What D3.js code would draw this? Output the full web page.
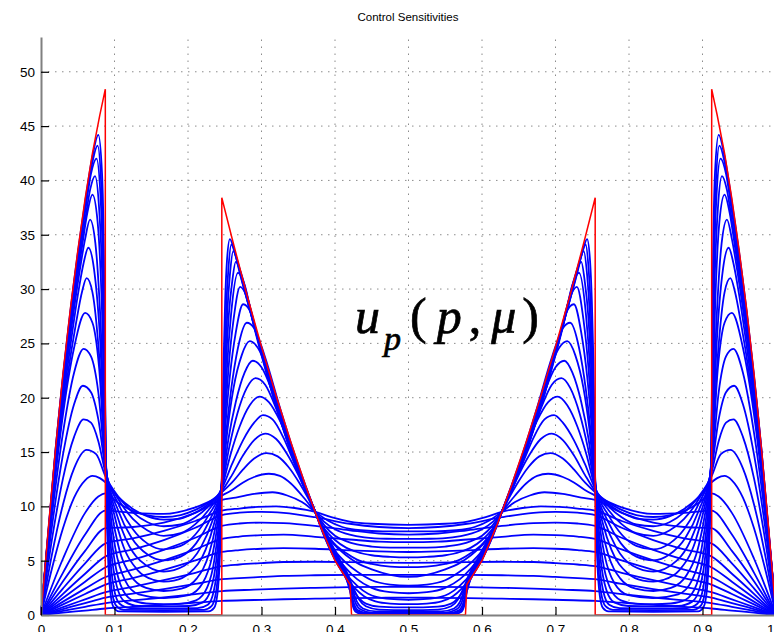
<!DOCTYPE html>
<html>
<head>
<meta charset="utf-8">
<script src="https://cdn.jsdelivr.net/npm/d3@7"></script>
<style>
  body { margin: 0; background: #fff; }
  svg text { font-family: "Liberation Sans", Arial, sans-serif; }
</style>
</head>
<body>
<div class="visHolder"></div>
<script>
const width = 774, height = 632;

// tick values
const xTicks = [0, 0.1, 0.2, 0.3, 0.4, 0.5, 0.6, 0.7, 0.8, 0.9, 1];
const yTicks = [0, 5, 10, 15, 20, 25, 30, 35, 40, 45, 50];

// limit curve (mu -> 0), left half; right half is its mirror image about p = 0.5
const redHalf = [[0,0],[0.01,8],[0.02,15.5],[0.03,22.3],[0.04,28.2],[0.05,33.5],[0.06,38.3],[0.07,42.5],[0.08,46],[0.0875,48.4],
  [0.0875,0],[0.246,0],[0.246,38.4],[0.26,34.65],[0.28,29.5],[0.30,24.7],[0.32,20.15],[0.34,15.9],[0.36,11.9],[0.38,8.2],
  [0.40,5.0],[0.4205,2.8],[0.4225,0],[0.5,0]];

// sensitivities u_p(p, mu) for increasing mu, left half (p <= 0.5)
const sensHalf = [
  [[0,0],[0.02,15.4],[0.04,28.0],[0.06,38.0],[0.07,42.2],[0.078,44.2],[0.083,40.7],[0.0855,33.5],[0.088,15.0],
   [0.0895,9.2],[0.091,5.7],[0.094,2.3],[0.0985,0.74],[0.106,0.34],[0.167,0.3],[0.228,0.34],[0.2355,0.66],[0.240,1.93],[0.243,4.75],[0.2445,7.6],
   [0.246,12.4],[0.247,17.5],[0.2485,23.6],[0.2505,28.8],[0.253,32.6],[0.257,34.6],[0.262,33.8],[0.27,31.6],[0.285,27.9],[0.30,24.35],[0.32,19.85],[0.34,15.65],[0.36,11.7],[0.373,9.5],[0.39,6.8],[0.405,4.7],[0.415,3.4],[0.4205,2.2],[0.424,0.9],[0.428,0.3],[0.435,0.12],[0.5,0.1]],
  [[0,0],[0.02,15.3],[0.04,27.8],[0.06,37.7],[0.07,41.7],[0.077,43.2],[0.082,39.5],[0.085,32.0],[0.088,14.9],
   [0.090,9.2],[0.092,5.77],[0.096,2.4],[0.102,0.88],[0.112,0.48],[0.167,0.45],[0.222,0.48],[0.232,0.81],[0.238,2.06],[0.242,4.85],[0.244,7.7],
   [0.246,12.4],[0.2475,17.7],[0.2495,23.2],[0.252,28.3],[0.255,31.9],[0.259,34.1],[0.265,33.0],[0.275,30.4],[0.29,26.6],[0.31,21.9],[0.33,17.5],[0.35,13.4],[0.373,9.5],[0.39,6.9],[0.405,4.8],[0.415,3.5],[0.421,2.1],[0.425,0.9],[0.43,0.35],[0.44,0.14],[0.5,0.12]],
  [[0,0],[0.02,15.1],[0.04,27.4],[0.06,37.1],[0.068,40.6],[0.0755,42.0],[0.081,38.5],[0.0845,31.5],[0.088,14.8],
   [0.09075,9.22],[0.0935,5.83],[0.099,2.52],[0.107,1.03],[0.121,0.64],[0.167,0.6],[0.213,0.63],[0.227,0.95],[0.235,2.18],[0.2405,4.9],[0.24325,7.7],
   [0.246,12.3],[0.248,17.7],[0.2505,23.0],[0.2535,27.9],[0.257,31.3],[0.2616,33.5],[0.268,32.4],[0.278,29.7],[0.29,26.6],[0.31,21.8],[0.33,17.4],[0.35,13.3],[0.373,9.5],[0.39,7.0],[0.405,4.9],[0.415,3.6],[0.421,2.3],[0.426,1.0],[0.432,0.4],[0.445,0.17],[0.5,0.15]],
  [[0,0],[0.02,14.9],[0.04,27.0],[0.06,36.3],[0.067,39.2],[0.0735,40.4],[0.079,37.5],[0.084,29.5],[0.088,14.7],
   [0.09175,9.24],[0.0955,5.92],[0.103,2.68],[0.114,1.23],[0.133,0.83],[0.167,0.8],[0.201,0.83],[0.220,1.16],[0.231,2.35],[0.2385,5.03],[0.24225,7.78],
   [0.246,12.3],[0.2485,17.7],[0.2515,22.8],[0.2555,27.6],[0.26,30.6],[0.265,32.5],[0.272,31.5],[0.283,28.7],[0.30,24.2],[0.32,19.6],[0.34,15.4],[0.36,11.6],[0.373,9.5],[0.39,7.0],[0.405,5.0],[0.415,3.7],[0.422,2.4],[0.428,1.1],[0.435,0.5],[0.45,0.22],[0.5,0.2]],
  [[0,0],[0.02,14.7],[0.04,26.4],[0.055,33.5],[0.063,37.0],[0.070,38.7],[0.077,36.2],[0.083,28.0],[0.088,14.5],
   [0.093,9.2],[0.098,5.97],[0.108,2.82],[0.123,1.41],[0.143,1.06],[0.167,1.0],[0.191,1.05],[0.211,1.34],[0.226,2.51],[0.236,5.12],[0.241,7.8],
   [0.246,12.2],[0.2495,17.9],[0.253,22.7],[0.2585,27.6],[0.268,31.5],[0.276,30.6],[0.29,26.5],[0.31,21.5],[0.33,17.1],[0.35,13.1],[0.373,9.5],[0.39,7.1],[0.405,5.1],[0.416,3.7],[0.423,2.5],[0.43,1.2],[0.438,0.6],[0.455,0.33],[0.5,0.3]],
  [[0,0],[0.02,14.4],[0.04,25.7],[0.052,31.4],[0.06,34.6],[0.0667,36.4],[0.074,34.2],[0.081,27.0],[0.088,14.3],
   [0.0945,9.27],[0.101,6.2],[0.114,3.23],[0.133,1.9],[0.167,1.56],[0.201,1.83],[0.220,2.94],[0.233,5.44],[0.2395,8.0],
   [0.246,12.2],[0.25,17.6],[0.255,22.6],[0.262,27.2],[0.271,30.2],[0.28,29.3],[0.295,25.4],[0.315,20.3],[0.335,16.0],[0.355,12.3],[0.373,9.5],[0.39,7.2],[0.405,5.3],[0.417,3.8],[0.425,2.5],[0.433,1.4],[0.442,0.8],[0.46,0.5],[0.5,0.45]],
  [[0,0],[0.02,14.0],[0.04,24.8],[0.05,29.4],[0.058,32.4],[0.0644,33.8],[0.072,31.9],[0.08,25.8],[0.088,14.1],
   [0.0965,9.34],[0.105,6.45],[0.122,3.64],[0.143,2.49],[0.167,2.21],[0.191,2.42],[0.212,3.37],[0.229,5.72],[0.2375,8.13],
   [0.246,12.1],[0.251,17.5],[0.257,22.0],[0.265,26.0],[0.275,28.6],[0.285,27.9],[0.30,24.2],[0.32,19.6],[0.34,15.5],[0.36,11.8],[0.373,9.5],[0.385,7.3],[0.40,5.1],[0.413,3.6],[0.423,2.5],[0.432,1.6],[0.442,1.05],[0.46,0.78],[0.5,0.7]],
  [[0,0],[0.02,13.5],[0.035,21.5],[0.048,27.0],[0.056,29.8],[0.0621,31.0],[0.07,29.7],[0.079,24.0],[0.088,13.9],
   [0.099,9.43],[0.110,6.72],[0.132,4.09],[0.153,3.24],[0.167,3.08],[0.181,3.17],[0.202,3.85],[0.224,6.02],[0.235,8.28],
   [0.246,12.0],[0.252,16.8],[0.259,20.9],[0.268,24.6],[0.28,26.9],[0.29,26.4],[0.305,23.7],[0.325,19.1],[0.345,14.8],[0.36,11.9],[0.373,9.5],[0.385,7.35],[0.40,5.1],[0.415,3.5],[0.428,2.4],[0.44,1.7],[0.455,1.25],[0.475,1.05],[0.5,1.0]],
  [[0,0],[0.015,10.0],[0.03,18.5],[0.045,24.6],[0.06,27.8],[0.07,26.9],[0.079,22.8],[0.088,13.7],
   [0.102,9.47],[0.116,6.9],[0.135,5.0],[0.167,4.0],[0.195,4.53],[0.218,6.29],[0.232,8.44],
   [0.246,12.0],[0.254,17.2],[0.262,20.9],[0.273,23.9],[0.284,25.2],[0.295,24.6],[0.31,22.2],[0.33,17.8],[0.35,13.5],[0.373,9.5],[0.385,7.4],[0.40,5.3],[0.415,3.8],[0.43,2.7],[0.445,1.95],[0.47,1.5],[0.5,1.4]],
  [[0,0],[0.015,9.2],[0.03,16.8],[0.045,22.3],[0.058,24.5],[0.068,23.8],[0.078,20.5],[0.088,13.5],
   [0.105,9.62],[0.123,7.13],[0.145,5.56],[0.167,5.03],[0.19,5.37],[0.211,6.59],[0.229,8.66],
   [0.246,11.9],[0.255,16.2],[0.265,19.6],[0.277,22.3],[0.288,23.4],[0.30,22.8],[0.315,20.5],[0.335,16.3],[0.355,12.6],[0.373,9.5],[0.385,7.5],[0.40,5.6],[0.415,4.3],[0.43,3.3],[0.45,2.5],[0.475,2.1],[0.5,2.0]],
  [[0,0],[0.015,8.2],[0.03,14.8],[0.045,19.4],[0.057,21.1],[0.068,20.5],[0.078,18.0],[0.088,13.3],
   [0.105,10.27],[0.125,7.89],[0.145,6.57],[0.167,6.04],[0.19,6.36],[0.21,7.41],[0.228,9.19],
   [0.246,11.8],[0.256,15.4],[0.267,18.5],[0.28,20.9],[0.292,21.8],[0.305,21.2],[0.32,19.0],[0.34,15.1],[0.357,12.2],[0.373,9.5],[0.385,7.6],[0.40,5.9],[0.415,4.8],[0.43,4.0],[0.45,3.2],[0.475,2.8],[0.5,2.7]],
  [[0,0],[0.015,7.0],[0.03,12.6],[0.045,16.4],[0.058,18.0],[0.068,17.7],[0.078,16.0],[0.088,13.0],
   [0.105,10.67],[0.125,8.85],[0.145,7.78],[0.167,7.29],[0.19,7.54],[0.21,8.36],[0.228,9.67],
   [0.246,11.7],[0.258,14.8],[0.27,17.3],[0.284,19.3],[0.297,20.1],[0.31,19.6],[0.325,17.9],[0.34,15.5],[0.357,12.3],[0.373,9.5],[0.385,7.7],[0.40,6.4],[0.415,5.5],[0.43,4.8],[0.45,4.2],[0.475,3.7],[0.5,3.5]],
  [[0,0],[0.015,5.6],[0.03,10.2],[0.045,13.5],[0.062,15.2],[0.075,14.8],[0.088,12.7],
   [0.105,10.9],[0.125,9.44],[0.145,8.54],[0.167,8.17],[0.19,8.33],[0.21,8.99],[0.228,10.02],
   [0.246,11.6],[0.26,13.9],[0.275,16.1],[0.29,17.7],[0.302,18.4],[0.315,18.0],[0.33,16.3],[0.345,13.9],[0.36,11.5],[0.373,9.5],[0.385,7.8],[0.40,6.5],[0.415,5.7],[0.43,5.1],[0.45,4.7],[0.475,4.45],[0.5,4.4]],
  [[0,0],[0.015,4.3],[0.03,8.0],[0.045,10.8],[0.06,12.4],[0.07,12.8],[0.08,12.6],[0.088,12.2],
   [0.105,10.86],[0.125,9.76],[0.145,9.07],[0.167,8.78],[0.19,8.88],[0.21,9.43],[0.228,10.21],
   [0.246,11.4],[0.26,12.9],[0.275,14.7],[0.29,16.1],[0.305,16.7],[0.32,16.2],[0.335,14.8],[0.35,12.9],[0.362,11.1],[0.373,9.5],[0.385,8.0],[0.40,6.9],[0.415,6.2],[0.43,5.8],[0.45,5.5],[0.475,5.35],[0.5,5.3]],
  [[0,0],[0.03,5.2],[0.06,9.4],[0.078,10.9],[0.088,11.2],
   [0.105,10.32],[0.125,9.59],[0.145,9.17],[0.167,9.02],[0.19,9.2],[0.21,9.67],[0.228,10.35],
   [0.246,11.3],[0.26,12.2],[0.275,13.4],[0.29,14.4],[0.307,14.9],[0.322,14.6],[0.337,13.6],[0.352,12.1],[0.363,10.8],[0.373,9.5],[0.385,8.3],[0.40,7.3],[0.415,6.8],[0.43,6.5],[0.45,6.3],[0.475,6.2],[0.5,6.2]],
  [[0,0],[0.03,3.9],[0.06,7.4],[0.088,9.6],
   [0.125,9.4],[0.167,9.3],[0.21,9.9],
   [0.246,11.0],[0.26,11.5],[0.275,12.2],[0.29,12.7],[0.31,13.0],[0.325,12.8],[0.34,12.1],[0.355,11.0],[0.373,9.5],[0.385,8.6],[0.40,7.9],[0.42,7.4],[0.44,7.15],[0.47,7.02],[0.5,7.0]],
  [[0,0],[0.03,3.1],[0.06,5.9],[0.088,8.0],
   [0.125,8.1],[0.167,8.5],[0.21,9.4],
   [0.246,10.6],[0.265,10.8],[0.29,11.15],[0.315,11.3],[0.335,11.0],[0.355,10.4],[0.373,9.5],[0.39,8.7],[0.41,8.1],[0.435,7.8],[0.465,7.7],[0.5,7.7]],
  [[0,0],[0.03,2.45],[0.06,4.75],[0.088,6.6],
   [0.125,7.05],[0.167,7.75],[0.21,8.65],
   [0.246,9.6],[0.27,9.8],[0.295,9.95],[0.32,10.0],[0.345,9.85],[0.373,9.5],[0.395,9.0],[0.42,8.6],[0.45,8.4],[0.5,8.3]],
  [[0,0],[0.03,1.95],[0.06,3.8],[0.088,5.4],
   [0.125,6.04],[0.167,6.9],[0.21,8.03],
   [0.246,9.2],[0.27,9.42],[0.30,9.5],[0.33,9.4],[0.373,9.0],[0.42,8.4],[0.46,8.1],[0.5,8.0]],
  [[0,0],[0.03,1.57],[0.06,3.07],[0.088,4.4],
   [0.125,5.09],[0.167,6.0],[0.21,7.11],
   [0.246,8.2],[0.27,8.42],[0.30,8.5],[0.33,8.45],[0.373,8.2],[0.42,7.8],[0.46,7.5],[0.5,7.4]],
  [[0,0],[0.03,1.23],[0.06,2.43],[0.088,3.5],
   [0.125,4.17],[0.167,5.03],[0.21,6.04],
   [0.246,7.0],[0.27,7.22],[0.30,7.35],[0.33,7.4],[0.373,7.2],[0.42,6.95],[0.46,6.75],[0.5,6.7]],
  [[0,0],[0.03,0.98],[0.06,1.93],[0.088,2.8],
   [0.125,3.4],[0.167,4.15],[0.21,5.02],
   [0.246,5.8],[0.27,5.98],[0.30,6.1],[0.33,6.15],[0.373,6.1],[0.42,5.95],[0.46,5.85],[0.5,5.8]],
  [[0,0],[0.03,0.73],[0.06,1.44],[0.088,2.1],
   [0.125,2.59],[0.167,3.2],[0.21,3.88],
   [0.246,4.5],[0.27,4.65],[0.30,4.78],[0.33,4.88],[0.373,4.9],[0.42,4.87],[0.46,4.82],[0.5,4.8]],
  [[0,0],[0.03,0.55],[0.06,1.1],[0.088,1.6],
   [0.125,1.96],[0.167,2.38],[0.21,2.86],
   [0.246,3.3],[0.27,3.4],[0.30,3.5],[0.33,3.6],[0.373,3.66],[0.42,3.69],[0.46,3.7],[0.5,3.7]],
  [[0,0],[0.03,0.38],[0.06,0.75],[0.088,1.1],
   [0.125,1.34],[0.167,1.61],[0.21,1.92],
   [0.246,2.2],[0.29,2.33],[0.33,2.43],[0.373,2.5],[0.42,2.56],[0.46,2.59],[0.5,2.6]],
  [[0,0],[0.03,0.21],[0.06,0.41],[0.088,0.6],
   [0.125,0.75],[0.167,0.93],[0.21,1.13],
   [0.246,1.3],[0.29,1.38],[0.33,1.45],[0.373,1.5],[0.42,1.55],[0.46,1.58],[0.5,1.6]]
];

// whole curve on [0,1]: the left half followed by its mirror image
const mirror = half => half.concat(half.slice(0, -1).reverse().map(d => [1 - d[0], d[1]]));

const svg = d3.select(".visHolder")
  .append("svg")
  .attr("width", width)
  .attr("height", height)
  .style("display", "block");

const xScale = d3.scaleLinear().domain([0, 1]).range([41, 776]);
const yScale = d3.scaleLinear().domain([0, 53.2]).range([615, 37]);

// dotted grid
svg.append("g").selectAll("line").data(yTicks.slice(1)).enter()
  .append("line")
  .attr("x1", xScale(0)).attr("x2", xScale(1))
  .attr("y1", d => yScale(d)).attr("y2", d => yScale(d))
  .attr("stroke", "#8c8c8c").attr("stroke-width", 1)
  .attr("stroke-dasharray", "1.5,5.5");

svg.append("g").selectAll("line").data(xTicks.slice(1, -1)).enter()
  .append("line")
  .attr("x1", d => xScale(d)).attr("x2", d => xScale(d))
  .attr("y1", yScale(0)).attr("y2", yScale(53.2))
  .attr("stroke", "#8c8c8c").attr("stroke-width", 1)
  .attr("stroke-dasharray", "1.5,5.5");

const smooth = d3.line()
  .x(d => xScale(d[0]))
  .y(d => yScale(d[1]))
  .curve(d3.curveMonotoneX);

svg.append("g").selectAll("path").data(sensHalf.map(mirror)).enter()
  .append("path")
  .attr("d", smooth)
  .attr("fill", "none")
  .attr("stroke", "#0000ff")
  .attr("stroke-width", 1.8)
  .attr("stroke-linejoin", "round");

const straight = d3.line()
  .x(d => xScale(d[0]))
  .y(d => yScale(d[1]));

svg.append("path")
  .attr("d", straight(mirror(redHalf)))
  .attr("fill", "none")
  .attr("stroke", "#ff0000")
  .attr("stroke-width", 1.5);

// axes, ticks pointing inwards
const yAxis = d3.axisLeft(yScale).tickValues(yTicks).tickSizeInner(-8).tickSizeOuter(0).tickPadding(6);
const gy = svg.append("g").attr("transform", "translate(41,0)").call(yAxis);

const xAxis = d3.axisBottom(xScale).tickValues(xTicks).tickSizeInner(-8).tickSizeOuter(0).tickPadding(9)
  .tickFormat(d => d === 0 ? "0" : d3.format(".1f")(d));
const gx = svg.append("g").attr("transform", "translate(0,615)").call(xAxis);

[gx, gy].forEach(g => {
  g.select(".domain").attr("stroke", "#808080").attr("stroke-width", 2);
  g.selectAll(".tick line").attr("stroke", "#000").attr("stroke-width", 1.2);
  g.selectAll(".tick text").attr("fill", "#000").style("font-size", "13.5px");
});

svg.append("text")
  .attr("x", 408)
  .attr("y", 21)
  .attr("text-anchor", "middle")
  .style("font-size", "11.5px")
  .text("Control Sensitivities");

// label u_p(p, mu)
const label = svg.append("text")
  .attr("x", 355)
  .attr("y", 333)
  .attr("stroke", "#000")
  .attr("stroke-width", 0.7)
  .style("font-family", "'Liberation Serif', 'Times New Roman', serif")
  .style("font-size", "50px");
label.append("tspan").style("font-style", "italic").text("u");
label.append("tspan").style("font-style", "italic").style("font-size", "34px").attr("dy", 17).attr("dx", 4).text("p");
label.append("tspan").attr("dy", -17).attr("dx", 9).text("(");
label.append("tspan").style("font-style", "italic").attr("dx", 10).text("p");
label.append("tspan").attr("dx", 7).text(",");
label.append("tspan").style("font-style", "italic").attr("dx", 10).text("μ");
label.append("tspan").attr("dx", 6).text(")");
</script>
</body>
</html>
